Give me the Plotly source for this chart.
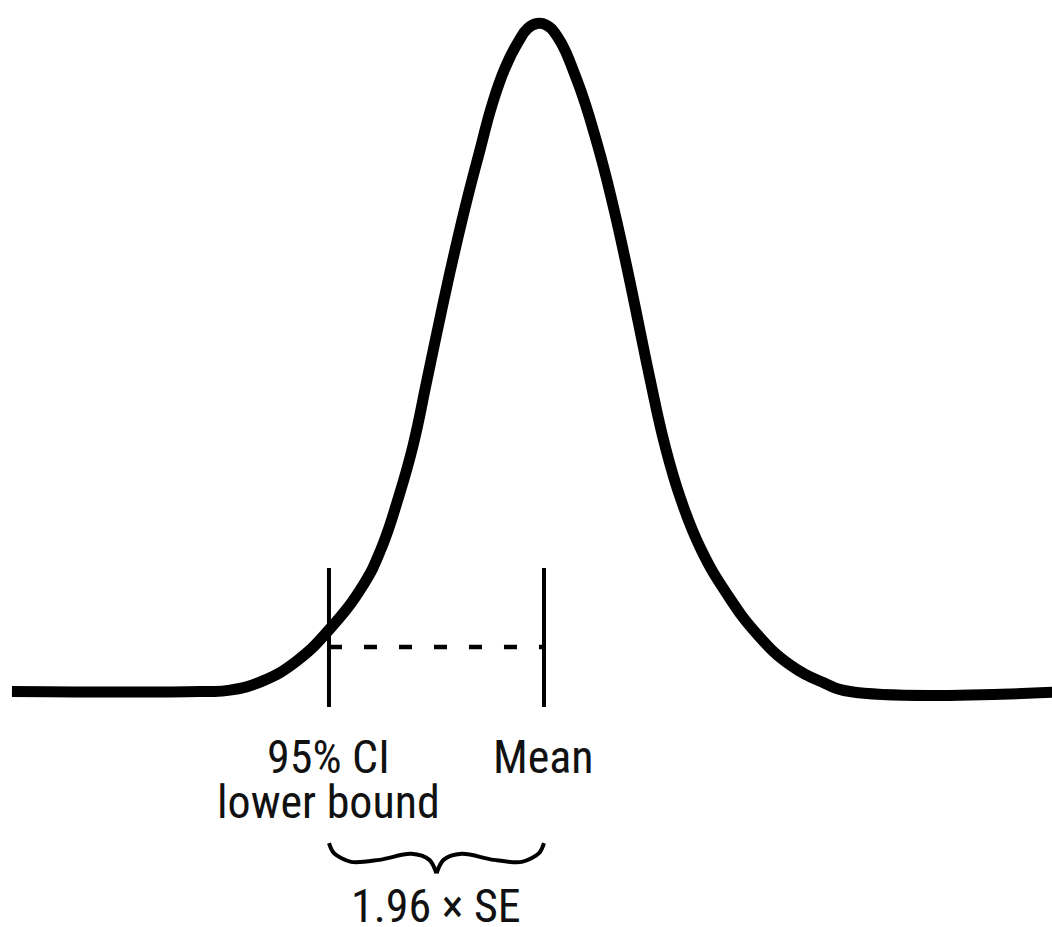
import plotly.graph_objects as go

# Bell curve (x in SE units relative to the mean, y as share of peak height)
curve_x = [-4.85, -3.136, -2.862, -2.562, -2.252, -1.951, -1.650, -1.486, -1.322, -1.194,
           -1.067, -0.921, -0.811, -0.702, -0.583, -0.474, -0.356, -0.237, -0.146, -0.064,
           0.018, 0.119, 0.301, 0.483, 0.629, 0.757, 0.857, 0.966, 1.103, 1.249,
           1.431, 1.668, 1.942, 2.242, 2.552, 2.789, 4.80]
curve_y = [0.0, 0.0, 0.002, 0.016, 0.046, 0.094, 0.159, 0.213, 0.293, 0.368,
           0.466, 0.580, 0.661, 0.736, 0.811, 0.878, 0.933, 0.972, 0.993, 1.0,
           0.998, 0.981, 0.915, 0.821, 0.728, 0.634, 0.555, 0.468, 0.368, 0.287,
           0.213, 0.146, 0.086, 0.040, 0.013, 0.0, 0.0]

mean_x = 0.0
lower_bound_x = -1.96
marker_top, marker_bottom = 0.185, -0.023
dash_level = 0.0666

labels_lower = ["95% CI", "lower bound"]
label_mean = "Mean"
label_span = "1.96 × SE"

# Brace outline: fraction along span, vertical level
brace_t = [0.0, 0.023, 0.103, 0.234, 0.383, 0.467, 0.5]
brace_y = [-0.227, -0.242, -0.255, -0.252, -0.243, -0.252, -0.272]

FONT = "Roboto Condensed, DejaVu Sans Condensed, Liberation Sans Narrow, sans-serif"

fig = go.Figure()

fig.add_trace(go.Scatter(x=curve_x, y=curve_y, mode="lines",
                         line=dict(color="black", width=11, shape="spline", smoothing=1.3,
                                   simplify=False),
                         hoverinfo="skip"))

for vx in (lower_bound_x, mean_x):
    fig.add_trace(go.Scatter(x=[vx, vx], y=[marker_bottom, marker_top], mode="lines",
                             line=dict(color="black", width=4), hoverinfo="skip"))

fig.add_trace(go.Scatter(x=[lower_bound_x, mean_x], y=[dash_level, dash_level], mode="lines",
                         line=dict(color="black", width=4.5, dash="13px,22px"), hoverinfo="skip"))

span = mean_x - lower_bound_x
left_x = [lower_bound_x + t * span for t in brace_t]
right_x = [mean_x - t * span for t in brace_t]
for bx in (left_x, right_x):
    fig.add_trace(go.Scatter(x=bx, y=brace_y, mode="lines",
                             line=dict(color="black", width=4, shape="spline", smoothing=0.9,
                                       simplify=False),
                             hoverinfo="skip"))

ann_font = dict(family=FONT, size=46, color="#111111")
fig.add_annotation(x=lower_bound_x, y=-0.098, text=labels_lower[0], showarrow=False,
                   xanchor="center", yanchor="middle", font=ann_font)
fig.add_annotation(x=lower_bound_x, y=-0.165, text=labels_lower[1], showarrow=False,
                   xanchor="center", yanchor="middle", font=ann_font)
fig.add_annotation(x=mean_x, y=-0.098, text=label_mean, showarrow=False,
                   xanchor="center", yanchor="middle", font=ann_font)
fig.add_annotation(x=(lower_bound_x + mean_x) / 2, y=-0.321, text=label_span, showarrow=False,
                   xanchor="center", yanchor="middle", font=ann_font)

fig.update_layout(
    width=1052, height=927,
    margin=dict(l=0, r=0, t=0, b=0),
    paper_bgcolor="white", plot_bgcolor="white",
    showlegend=False,
    xaxis=dict(range=[-4.959, 4.631], visible=False, fixedrange=True),
    yaxis=dict(range=[-0.3525, 1.0352], visible=False, fixedrange=True),
)

fig.write_html("out.html", config={"displayModeBar": False},
               post_script="document.body.style.margin='0px';document.body.style.overflow='hidden';")
